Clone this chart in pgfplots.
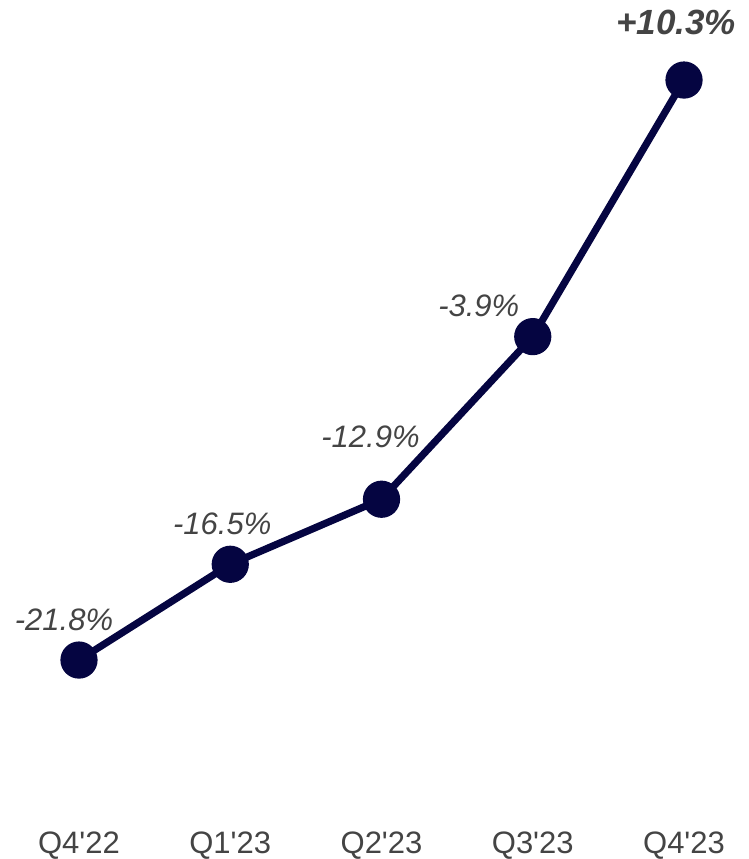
\documentclass[border=0pt]{standalone}
\usepackage{pgfplots}
\pgfplotsset{compat=1.18}
\usepackage{fontspec}
\setmainfont{Liberation Sans}
\definecolor{navy}{RGB}{5,5,65}
\definecolor{lbl}{RGB}{68,68,68}
\begin{document}
\begin{tikzpicture}
\begin{axis}[
  scale only axis, width=374pt, height=429.5pt,
  xmin=-0.5223, xmax=4.4231, ymin=-32.81, ymax=14.73,
  axis line style={draw=none}, ytick=\empty, xtick={0,1,2,3,4},
  xticklabels={{Q4\textquotesingle22},{Q1\textquotesingle23},{Q2\textquotesingle23},{Q3\textquotesingle23},{Q4\textquotesingle23}},
  major tick length=0pt,
  xticklabel style={anchor=base, inner sep=0pt, yshift=2.6pt, font=\fontsize{15.5}{18}\selectfont, text=lbl},
  clip=false,
  every node/.append style={inner sep=0pt},
]
\addplot[navy, line width=3.6pt, line join=round, mark=*, mark size=7.5pt, mark options={draw=none, fill=navy}]
  coordinates {(0,-21.8) (1,-16.5) (2,-12.9) (3,-3.9) (4,10.3)};
\node[text=lbl, font=\fontsize{15.5}{18}\selectfont\itshape, xshift=-7.5pt, yshift=20pt] at (axis cs:0,-21.8) {-21.8\%};
\node[text=lbl, font=\fontsize{15.5}{18}\selectfont\itshape, xshift=-4pt, yshift=20pt] at (axis cs:1,-16.5) {-16.5\%};
\node[text=lbl, font=\fontsize{15.5}{18}\selectfont\itshape, xshift=-5.5pt, yshift=31pt] at (axis cs:2,-12.9) {-12.9\%};
\node[text=lbl, font=\fontsize{15.5}{18}\selectfont\itshape, xshift=-27pt, yshift=15.5pt] at (axis cs:3,-3.9) {-3.9\%};
\node[text=lbl, font=\fontsize{17.5}{20}\selectfont\bfseries\itshape, xshift=-4pt, yshift=29pt] at (axis cs:4,10.3) {+10.3\%};
\end{axis}
\pgfresetboundingbox
\path[use as bounding box] (current axis.south west) rectangle (current axis.north east);
\end{tikzpicture}
\end{document}
